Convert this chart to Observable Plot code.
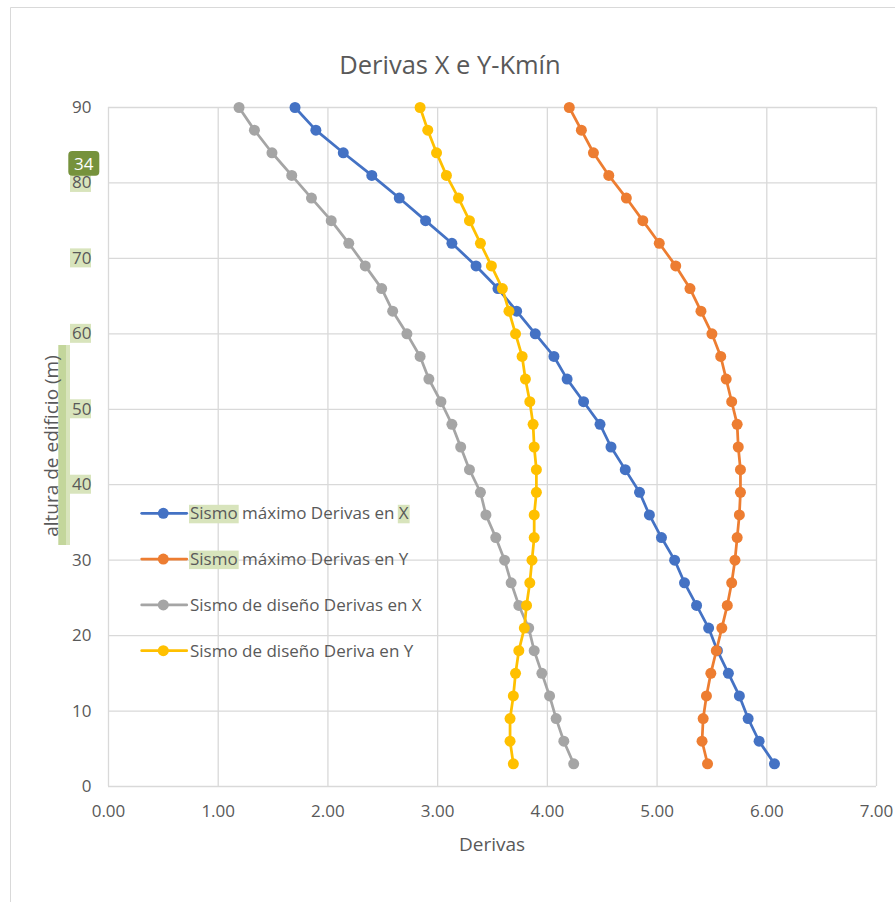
<!DOCTYPE html>
<html>
<head>
<meta charset="utf-8">
<script src="https://cdn.jsdelivr.net/npm/d3@7"></script>
<script src="https://cdn.jsdelivr.net/npm/@observablehq/plot@0.6"></script>
<style>
  body { margin: 0; background: #fff; }
  #chart { position: relative; width: 895px; height: 902px; }
</style>
</head>
<body>
<div id="chart"></div>
<script>
// ---------- data ----------
const title = "Derivas X e Y-Kmín";
const xLabel = "Derivas";
const yLabel = "altura de edificio (m)";
const badgeLabel = "34";

const heights = [3, 6, 9, 12, 15, 18, 21, 24, 27, 30, 33, 36, 39, 42, 45, 48, 51, 54, 57, 60, 63, 66, 69, 72, 75, 78, 81, 84, 87, 90];

const seriesNames = [
  "Sismo máximo Derivas en X",
  "Sismo máximo Derivas en Y",
  "Sismo de diseño Derivas en X",
  "Sismo de diseño Deriva en Y"
];
const seriesColors = ["#4472C4", "#ED7D31", "#A5A5A5", "#FFC000"];

const maxX = [6.07, 5.93, 5.83, 5.75, 5.65, 5.55, 5.47, 5.36, 5.25, 5.16, 5.04, 4.93, 4.84, 4.71, 4.58, 4.48, 4.33, 4.18, 4.06, 3.89, 3.72, 3.55, 3.35, 3.13, 2.89, 2.65, 2.40, 2.14, 1.89, 1.70];
const maxY = [5.46, 5.41, 5.42, 5.45, 5.49, 5.54, 5.59, 5.64, 5.68, 5.71, 5.73, 5.75, 5.76, 5.76, 5.74, 5.73, 5.68, 5.63, 5.58, 5.50, 5.40, 5.30, 5.17, 5.02, 4.87, 4.72, 4.56, 4.42, 4.31, 4.20];
const designX = [4.24, 4.15, 4.08, 4.02, 3.95, 3.88, 3.83, 3.74, 3.67, 3.61, 3.53, 3.44, 3.39, 3.29, 3.21, 3.13, 3.03, 2.92, 2.84, 2.72, 2.59, 2.49, 2.34, 2.19, 2.03, 1.85, 1.67, 1.49, 1.33, 1.19];
const designY = [3.69, 3.66, 3.66, 3.69, 3.71, 3.74, 3.79, 3.81, 3.84, 3.86, 3.88, 3.88, 3.90, 3.90, 3.88, 3.87, 3.84, 3.80, 3.77, 3.71, 3.65, 3.59, 3.49, 3.39, 3.29, 3.19, 3.08, 2.99, 2.91, 2.84];

const xTicks = [0, 1, 2, 3, 4, 5, 6, 7];
const yTicks = [0, 10, 20, 30, 40, 50, 60, 70, 80, 90];
const highlightedYTicks = [40, 50, 60, 70, 80];

// ---------- build ----------
const seriesValues = [maxX, maxY, designX, designY];
const rows = seriesValues.flatMap((vals, i) =>
  vals.map((v, j) => ({ series: seriesNames[i], h: heights[j], v }))
);

const FONT = "'Open Sans', 'Noto Sans', sans-serif";
const TEXT = "#595959";
const GRID = "#d9d9d9";
const HL = "#d8e4bc";

const plot = Plot.plot({
  width: 895,
  height: 902,
  marginLeft: 108,
  marginRight: 19,
  marginTop: 107,
  marginBottom: 116,
  style: { fontFamily: FONT, fontSize: "17px", background: "#fff", color: TEXT },
  x: { domain: [0, 7] },
  y: { domain: [0, 90] },
  color: { domain: seriesNames, range: seriesColors },
  marks: [
    Plot.gridX(xTicks, { stroke: GRID, strokeOpacity: 1, strokeWidth: 1.3 }),
    Plot.gridY(yTicks, { stroke: GRID, strokeOpacity: 1, strokeWidth: 1.3 }),
    Plot.axisX(xTicks, { tickSize: 0, tickPadding: 18, label: null, fill: TEXT, tickFormat: d3.format(".2f") }),
    Plot.axisY(yTicks, { tickSize: 0, tickPadding: 17, label: null, fill: TEXT }),
    ...seriesNames.flatMap(name => {
      const data = rows.filter(d => d.series === name);
      return [
        Plot.line(data, { x: "v", y: "h", stroke: "series", strokeWidth: 2.75 }),
        Plot.dot(data, { x: "v", y: "h", fill: "series", r: 5.5 })
      ];
    })
  ]
});

document.getElementById("chart").appendChild(plot);

const svg = d3.select(plot);
const ys = plot.scale("y");
const color = d => seriesColors[seriesNames.indexOf(d)];

// background decorations (behind everything)
const back = svg.insert("g", ":first-child");
back.append("path")
  .attr("d", "M10.5,902V7.5H895")
  .attr("fill", "none").attr("stroke", GRID).attr("stroke-width", 1);

highlightedYTicks.forEach(v => {
  back.append("rect")
    .attr("x", 70).attr("y", ys.apply(v) - 9.5)
    .attr("width", 21).attr("height", 19)
    .attr("fill", HL);
});
back.append("rect").attr("x", 58.3).attr("y", 345).attr("width", 7.7).attr("height", 200).attr("fill", "#c3d69b");
back.append("rect").attr("x", 66).attr("y", 345).attr("width", 4).attr("height", 200).attr("fill", HL);

// front overlays
const front = svg.append("g").attr("font-family", FONT);

front.append("text")
  .attr("x", 450).attr("y", 73.5)
  .attr("text-anchor", "middle")
  .attr("font-size", 25.5).attr("fill", TEXT)
  .text(title);

front.append("text")
  .attr("x", 492).attr("y", 851)
  .attr("text-anchor", "middle")
  .attr("font-size", 19).attr("fill", TEXT)
  .text(xLabel);

front.append("text")
  .attr("transform", "translate(58,446) rotate(-90)")
  .attr("text-anchor", "middle")
  .attr("font-size", 19).attr("fill", TEXT)
  .text(yLabel);

// badge
front.append("rect")
  .attr("x", 68.3).attr("y", 151).attr("width", 31).attr("height", 24.7)
  .attr("rx", 4).attr("fill", "#76923c");
front.append("text")
  .attr("x", 83.8).attr("y", 169.5)
  .attr("text-anchor", "middle")
  .attr("font-size", 17).attr("fill", "#fff")
  .text(badgeLabel);

// legend
const legend = front.append("g").attr("text-anchor", "start");
seriesNames.forEach((name, i) => {
  const cy = 513.3 + i * 45.8;
  const g = legend.append("g");
  const hl = g.append("g");
  g.append("line")
    .attr("x1", 141.7).attr("x2", 186.7).attr("y1", cy).attr("y2", cy)
    .attr("stroke", color(name)).attr("stroke-width", 2.75).attr("stroke-linecap", "round");
  g.append("circle").attr("cx", 163.3).attr("cy", cy).attr("r", 5.5).attr("fill", color(name));
  const t = g.append("text")
    .attr("x", 190).attr("y", cy + 5.8)
    .attr("text-anchor", "start")
    .attr("font-size", 17).attr("fill", TEXT)
    .text(name);
  const node = t.node();
  const mark = (start, len) => {
    const p = node.getStartPositionOfChar(start);
    const w = node.getSubStringLength(start, len);
    hl.append("rect")
      .attr("x", p.x - 1).attr("y", cy - 8.5)
      .attr("width", w + 2).attr("height", 18.5)
      .attr("fill", HL);
  };
  if (i < 2) mark(0, 5);
  if (i === 0) mark(name.length - 1, 1);
});
</script>
</body>
</html>
